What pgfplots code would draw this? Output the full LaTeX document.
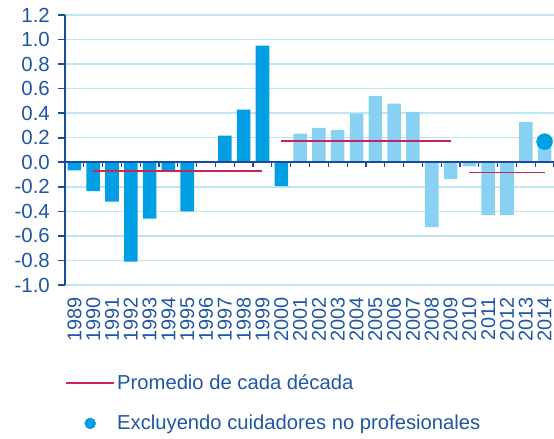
\documentclass[border=0pt]{standalone}
\usepackage{pgfplots}
\pgfplotsset{compat=1.18}
\usepackage{fontspec}
\setmainfont{Liberation Sans}
\definecolor{txt}{HTML}{1F56A5}
\definecolor{axc}{HTML}{1A4C9C}
\definecolor{grd}{HTML}{BEE6F7}
\definecolor{dk}{HTML}{009FE3}
\definecolor{lt}{HTML}{89D1F2}
\definecolor{crim}{HTML}{C8235E}
\begin{document}
\begin{tikzpicture}
\useasboundingbox (-65bp,-154bp) rectangle (489bp,285bp);
\begin{axis}[
  at={(0,0)}, anchor=south west,
  width=489bp, height=270bp, scale only axis,
  xmin=-0.5, xmax=25.5, ymin=-1.0, ymax=1.2,
  axis lines*=left,
  x axis line style={draw=none},
  y axis line style={axc, line width=1.6bp, -},
  ytick={-1,-0.8,-0.6,-0.4,-0.2,0,0.2,0.4,0.6,0.8,1.0,1.2},
  ymajorgrids, grid style={grd, line width=1.5bp},
  tick align=outside,
  ytick style={axc, line width=1.6bp},
  major tick length=7bp,
  xtick={0,...,25}, xtick style={draw=none},
  xticklabels={1989,1990,1991,1992,1993,1994,1995,1996,1997,1998,1999,2000,2001,2002,2003,2004,2005,2006,2007,2008,2009,2010,2011,2012,2013,2014},
  xticklabel style={rotate=90, anchor=east, inner sep=0pt, xshift=-5bp, font=\fontsize{20}{22}\selectfont},
  yticklabel style={inner sep=0pt, xshift=-8bp, font=\fontsize{20.5}{22}\selectfont},
  ticklabel style={text=txt},
  /pgf/number format/.cd, fixed, fixed zerofill, precision=1, assume math mode=true,
  /pgfplots/.cd,
  legend style={at={(0,-0.325)}, anchor=north west, draw=none, fill=none,
    font=\fontsize{20.3}{22}\selectfont, text=txt, row sep=20bp, inner sep=0pt,
    /tikz/every even column/.append style={column sep=10bp}},
  legend cell align=left,
  clip=false,
]
\addplot[ybar, bar width=0.72, bar shift=0pt, fill=dk, draw=none, forget plot] coordinates {
(0,-0.065) (1,-0.236) (2,-0.32) (3,-0.81) (4,-0.46) (5,-0.065) (6,-0.40)
(8,0.217) (9,0.43) (10,0.95) (11,-0.195)};
\addplot[ybar, bar width=0.72, bar shift=0pt, fill=lt, draw=none, forget plot] coordinates {
(12,0.233) (13,0.28) (14,0.265) (15,0.396) (16,0.54) (17,0.477) (18,0.41)
(19,-0.528) (20,-0.138) (21,-0.033) (22,-0.43) (23,-0.43) (24,0.33) (25,0.15)};
\draw[axc, line width=1.6bp] (axis cs:-0.5,0) -- (axis cs:25.5,0);
\pgfplotsinvokeforeach{0.5,1.5,...,25.5}{\draw[axc, line width=1.2bp] (axis cs:#1,0) -- ([yshift=-5bp]axis cs:#1,0);}
\addplot[color=crim, line width=1.8bp, legend image code/.code={\draw[draw=crim, line width=2bp] (0bp,0bp) -- (48bp,0bp);}] coordinates {(1,-0.068) (10,-0.068)};
\addlegendentry{Promedio de cada década}
\addplot[color=crim, line width=1.8bp, forget plot] coordinates {(11,0.176) (20,0.176)};
\addplot[color=crim, line width=1.8bp, forget plot] coordinates {(21,-0.084) (25,-0.084)};
\addplot[only marks, mark=*, mark size=8bp, color=dk, mark options={draw=none, fill=dk},
  legend image code/.code={\fill[dk] (24bp,0bp) circle (5.5bp);}] coordinates {(25,0.168)};
\addlegendentry{Excluyendo cuidadores no profesionales}
\end{axis}
\end{tikzpicture}
\end{document}
